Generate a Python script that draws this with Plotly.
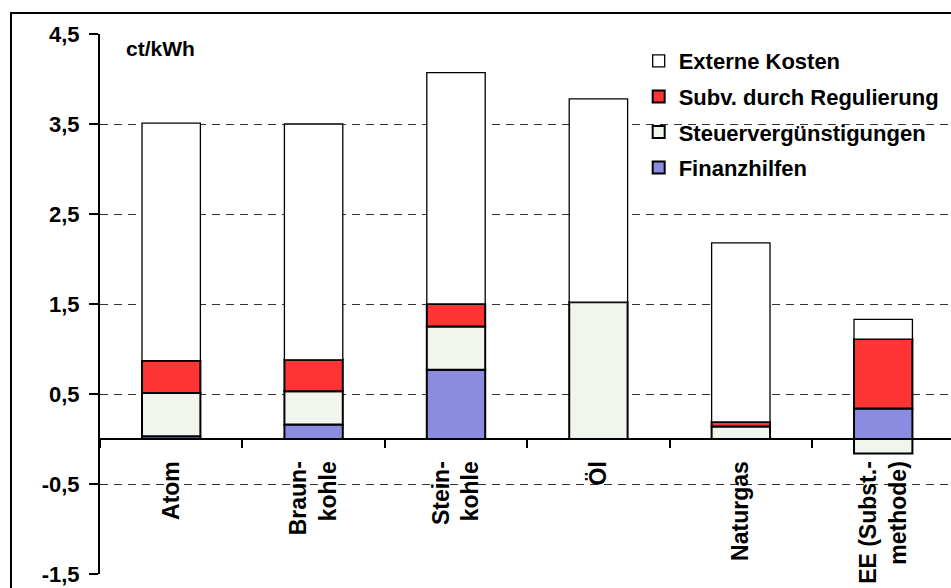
import plotly.graph_objects as go

categories = ["Atom", "Braun-<br>kohle", "Stein-<br>kohle", "Öl", "Naturgas", "EE (Subst.-<br>methode)"]
finanzhilfen = [0.03, 0.16, 0.77, None, None, 0.34]
steuerverguenstigungen = [0.48, 0.37, 0.48, 1.52, 0.14, -0.16]
subv_regulierung = [0.36, 0.35, 0.25, None, 0.05, 0.77]
externe_kosten = [2.64, 2.62, 2.57, 2.26, 1.99, 0.22]

y_tick_values = [-1.5, -0.5, 0.5, 1.5, 2.5, 3.5, 4.5]
y_tick_labels = ["-1,5", "-0,5", "0,5", "1,5", "2,5", "3,5", "4,5"]
boundary_ticks = [0.5, 1.5, 2.5, 3.5, 4.5]

series = [
    ("Finanzhilfen", finanzhilfen, "#8B8BE0", 2, 4),
    ("Steuervergünstigungen", steuerverguenstigungen, "#F0F6EE", 2, 3),
    ("Subv. durch Regulierung", subv_regulierung, "#FF3535", 2, 2),
    ("Externe Kosten", externe_kosten, "#FFFFFF", 1.3, 1),
]

FONT = "Liberation Sans, Arial, sans-serif"
XR = [-0.5, 5.476]
YR = [-1.5, 4.5]

fig = go.Figure()
for i, (name, vals, col, lw, rank) in enumerate(series):
    fig.add_trace(go.Bar(
        x=categories, y=vals, name=name, width=0.41,
        marker=dict(color=col, line=dict(color="black", width=lw)),
        legendgroup=f"g{i}", legendrank=rank,
    ))

fig.update_layout(
    width=951, height=588,
    margin=dict(l=100, r=0, t=34, b=14, autoexpand=False),
    paper_bgcolor="white", plot_bgcolor="white",
    barmode="relative",
    font=dict(family=FONT, size=20, color="black", weight="bold"),
    showlegend=True,
    legend=dict(
        x=0.633, y=0.9889, xanchor="left", yanchor="top",
        traceorder="grouped", tracegroupgap=4,
        font=dict(family=FONT, size=22, color="black", weight="bold"),
        bgcolor="rgba(0,0,0,0)", itemwidth=30,
    ),
    xaxis=dict(
        type="category", range=XR,
        anchor="free", position=0.25,
        showline=True, linecolor="black", linewidth=2,
        ticks="outside", ticklen=8, tickwidth=2, tickcolor="black",
        tickson="boundaries", tickangle=-90,
        tickfont=dict(family=FONT, size=23, color="black", weight="bold"),
        ticklabelstandoff=12,
        showgrid=False, zeroline=False, automargin=False,
    ),
    yaxis=dict(
        range=YR, tickmode="array", tickvals=y_tick_values, ticktext=y_tick_labels,
        showline=True, linecolor="black", linewidth=2,
        ticks="outside", ticklen=9, tickwidth=2, tickcolor="black",
        tickfont=dict(family=FONT, size=22, color="black", weight="bold"),
        ticklabelstandoff=5,
        showgrid=True, gridcolor="#333333", gridwidth=1, griddash="8px,6px",
        zeroline=True, zerolinecolor="black", zerolinewidth=2, automargin=False,
    ),
    yaxis2=dict(
        overlaying="y", anchor="x", side="left", range=YR,
        tickmode="array", tickvals=y_tick_values,
        ticks="inside", ticklen=8, tickwidth=2, tickcolor="black",
        showticklabels=False, showgrid=False, zeroline=False, showline=False,
    ),
    xaxis2=dict(
        overlaying="x", anchor="free", position=0.25, range=XR,
        tickmode="array", tickvals=boundary_ticks,
        ticks="inside", ticklen=8, tickwidth=2, tickcolor="black",
        showticklabels=False, showgrid=False, zeroline=False, showline=False,
    ),
)

fig.add_annotation(
    text="ct/kWh", xref="paper", yref="paper", x=0.028, y=0.974,
    xanchor="left", yanchor="middle", showarrow=False,
    font=dict(family=FONT, size=21, color="black", weight="bold"),
)

fig.add_shape(
    type="rect", xref="paper", yref="paper",
    x0=-0.1046, x1=1.03, y0=-0.08, y1=1.0389,
    line=dict(color="black", width=2), fillcolor="rgba(0,0,0,0)", layer="below",
)

fig.write_html(
    "out.html",
    config={"displayModeBar": False},
    post_script="document.body.style.margin='0';document.body.style.overflow='hidden';",
)
